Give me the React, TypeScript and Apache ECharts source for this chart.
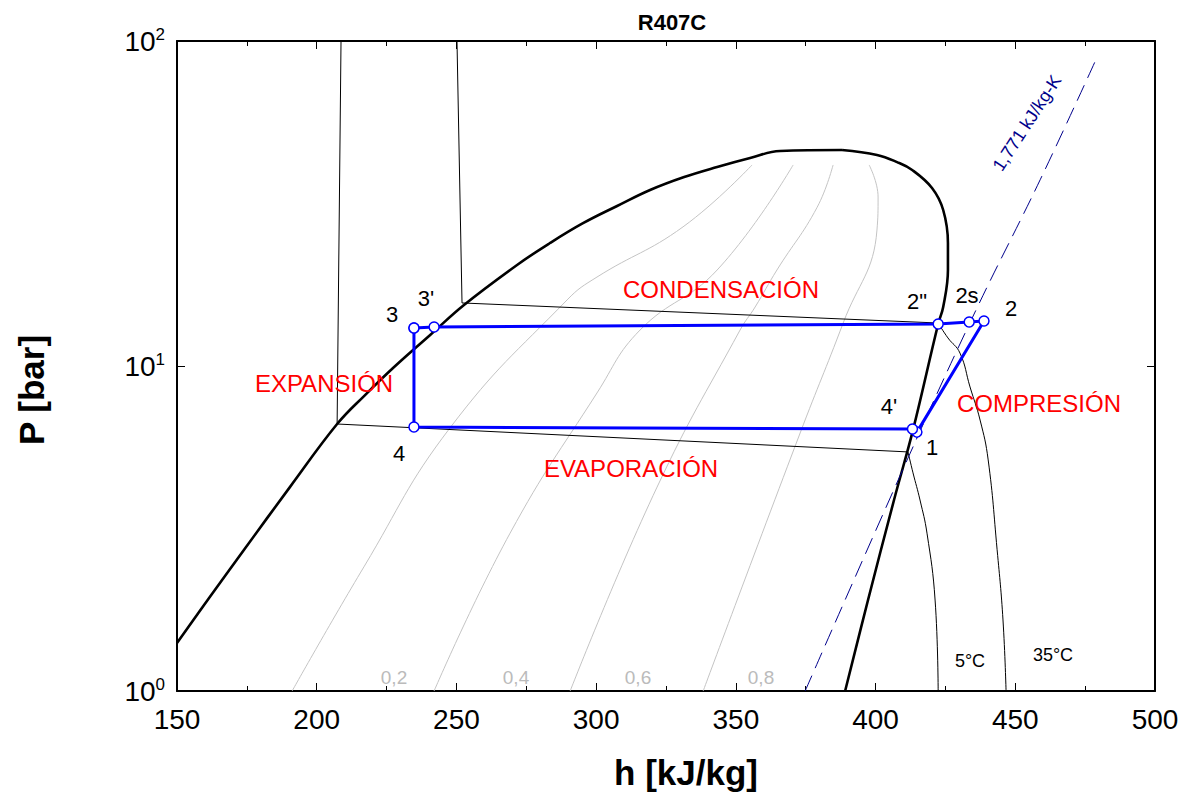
import React, { useEffect, useRef } from 'react';
import * as echarts from 'echarts';

const FONT = '"Liberation Sans", Arial, Helvetica, sans-serif';

// Axis ranges / ticks
const H_MIN = 150;
const H_MAX = 500;
const H_STEP = 50;
const P_MIN = 1;
const P_MAX = 100;

// Saturation dome [h kJ/kg, P bar]
const liquidLine = [
  [150, 1.405], [161.8, 1.95], [174.0, 2.72], [190.4, 4.24], [207.3, 6.63], [217.3, 8.14], [227.7, 9.93],
  [240.6, 12.46], [252.7, 15.41], [271.7, 20.46], [283.5, 23.9], [295.3, 27.5], [307.5, 31.07], [319.3, 34.8],
  [331.5, 38.15], [343.3, 40.96], [355.1, 43.65], [365.8, 45.86], [388.0, 46.2],
];
const vaporLine = [
  [388.0, 46.2], [400.5, 44.6], [407.7, 42.4], [413.1, 40.1], [420.2, 35.3], [424.2, 30.2], [425.9, 23.9], [425.9, 19.74],
  [424.2, 15.19], [422.4, 13.47], [413.4, 6.36], [406.6, 3.87], [397.3, 1.905], [389.1, 1.0],
];

// Quality lines
const q02 = [[191.2, 1.0], [216.9, 2.41], [247.7, 6.45], [289.6, 15.97], [300.3, 18.78], [331.1, 26.8], [355.8, 41.55]];
const q04 = [[242.0, 1.0], [269.2, 3.06], [300.3, 8.26], [315.7, 12.9], [343.3, 19.74], [370.5, 41.55]];
const q06 = [[290.7, 1.0], [321.8, 4.24], [351.5, 12.9], [356.9, 15.19], [364.7, 19.74], [379.1, 30.8], [384.8, 41.55]];
const q08 = [[338.3, 1.0], [373.0, 6.22], [388.4, 13.56], [400.5, 26.2], [400.9, 33.1], [397.7, 41.55]];
const qualityLabels = ['0,2', '0,4', '0,6', '0,8'];

// Isotherms
const t5Liquid = [[208.7, 100], [207.3, 6.63]];
const t5TwoPhase = [[207.3, 6.63], [411.6, 5.44]];
const t5Vapor = [[411.6, 5.44], [413.4, 4.69], [415.9, 3.87], [418.4, 3.06], [421.3, 1.905], [422.4, 1.0]];
const t35Liquid = [[250.2, 100], [252.0, 15.63]];
const t35TwoPhase = [[252.0, 15.63], [422.4, 13.56]];
const t35Vapor = [[422.4, 13.56], [425.9, 12.2], [430.2, 10.96], [433.8, 8.62], [437.4, 6.82], [440.3, 5.14], [443.5, 2.72], [445.6, 1.654], [446.7, 1.0]];

// Isentrope s = 1,771 kJ/kg-K
const isentrope = [[374.8, 1.0], [411.3, 5.14], [435.6, 14.66], [458.9, 37.4], [479.3, 89.3]];

// Refrigeration cycle
const cycleNames = ['3', "3'", '2"', '2s', '2', '1', "4'", '4', '3'];
const cycleH = [234.8, 242.0, 422.4, 433.5, 438.8, 414.8, 413.2, 234.8, 234.8];
const cycleP = [13.09, 13.18, 13.47, 13.66, 13.75, 6.26, 6.40, 6.49, 13.09];

function thin(data: number[][], color: string, smooth: number | boolean = false, z = 2) {
  return {
    type: 'line', data, smooth, symbol: 'none', silent: true, z,
    lineStyle: { color, width: 1 },
  };
}

function txt(text: string, x: number, y: number, size: number, fill: string, extra: any = {}) {
  return {
    type: 'text', x, y, z: 50, silent: true, ...extra,
    style: {
      text, fill, font: `${extra.bold ? 'bold ' : ''}${size}px ${FONT}`,
      textAlign: 'center', textVerticalAlign: 'middle', align: 'center', verticalAlign: 'middle',
    },
  };
}

export default function App() {
  const ref = useRef<HTMLDivElement>(null);
  useEffect(() => {
    const chart = echarts.init(ref.current!, null, { renderer: 'svg', width: 1194, height: 798 });
    const axisLine = { show: true, onZero: false, lineStyle: { color: '#000', width: 2 } };
    const option: any = {
      animation: false,
      backgroundColor: '#fff',
      grid: { left: 177, right: 39, top: 41, bottom: 107, containLabel: false, outerBoundsMode: 'none' },
      xAxis: [
        {
          type: 'value', min: H_MIN, max: H_MAX, interval: H_STEP, position: 'bottom',
          axisLine,
          axisTick: { show: true, inside: true, length: 8, lineStyle: { color: '#000', width: 1 } },
          minorTick: { show: true, splitNumber: 2, length: 5, lineStyle: { color: '#000', width: 1 } },
          axisLabel: { show: true, color: '#000', fontSize: 28, fontFamily: FONT, margin: 14 },
          splitLine: { show: false },
        },
        {
          type: 'value', min: H_MIN, max: H_MAX, interval: H_STEP, position: 'top',
          axisLine,
          axisTick: { show: true, inside: true, length: 8, lineStyle: { color: '#000', width: 1 } },
          minorTick: { show: true, splitNumber: 2, length: 5, lineStyle: { color: '#000', width: 1 } },
          axisLabel: { show: false },
          splitLine: { show: false },
        },
      ],
      yAxis: [
        {
          type: 'log', logBase: 10, min: P_MIN, max: P_MAX, position: 'left',
          axisLine,
          axisTick: { show: true, inside: true, length: 8, lineStyle: { color: '#000', width: 1 } },
          axisLabel: {
            show: true, margin: 12, fontFamily: FONT,
            formatter: (v: number) => `{b|10}{s|${Math.round(Math.log10(v))}}`,
            rich: {
              b: { fontSize: 28, color: '#000', fontFamily: FONT, lineHeight: 30 },
              s: { fontSize: 17, color: '#000', fontFamily: FONT, verticalAlign: 'top', lineHeight: 17 },
            },
          },
          splitLine: { show: false },
        },
        {
          type: 'log', logBase: 10, min: P_MIN, max: P_MAX, position: 'right',
          axisLine,
          axisTick: { show: true, inside: true, length: 8, lineStyle: { color: '#000', width: 1 } },
          axisLabel: { show: false },
          splitLine: { show: false },
        },
      ],
      series: [
        thin(q02, '#c4c4c4', 0.45, 1),
        thin(q04, '#c4c4c4', 0.45, 1),
        thin(q06, '#c4c4c4', 0.45, 1),
        thin(q08, '#c4c4c4', 0.45, 1),
        thin(t5Liquid, '#000'),
        thin(t5TwoPhase, '#000'),
        thin(t5Vapor, '#000', 0.45),
        thin(t35Liquid, '#000'),
        thin(t35TwoPhase, '#000'),
        thin(t35Vapor, '#000', 0.45),
        {
          type: 'line', data: liquidLine, smooth: 0.4, symbol: 'none', silent: true, z: 4,
          lineStyle: { color: '#000', width: 2.6 },
        },
        {
          type: 'line', data: vaporLine, smooth: 0.4, symbol: 'none', silent: true, z: 4,
          lineStyle: { color: '#000', width: 2.6 },
        },
        {
          type: 'line', data: isentrope, smooth: 0.4, symbol: 'none', silent: true, z: 5,
          lineStyle: { color: '#00008b', width: 1, type: [17, 8] },
        },
        {
          type: 'line', z: 10, silent: true,
          data: cycleH.map((h, i) => ({ name: cycleNames[i], value: [h, cycleP[i]] })),
          symbol: 'circle', symbolSize: 10, showAllSymbol: true,
          lineStyle: { color: '#0000ff', width: 3 },
          itemStyle: { color: '#ffffff', borderColor: '#0000ff', borderWidth: 1.5 },
        },
      ],
      graphic: [
        txt('R407C', 672, 22, 22, '#000', { bold: true }),
        txt('h [kJ/kg]', 686, 772, 35, '#000', { bold: true }),
        txt('P [bar]', 31, 390, 35, '#000', { bold: true, rotation: Math.PI / 2 }),
        txt('CONDENSACIÓN', 721, 289, 24, '#ff0000'),
        txt('EXPANSIÓN', 324, 383, 24, '#ff0000'),
        txt('EVAPORACIÓN', 631, 468, 24, '#ff0000'),
        txt('COMPRESIÓN', 1039, 403, 24, '#ff0000'),
        txt('3', 392, 314, 22, '#000'),
        txt("3'", 426, 298, 22, '#000'),
        txt('2"', 917, 301, 22, '#000'),
        txt('2s', 967, 295, 22, '#000'),
        txt('2', 1011, 308, 22, '#000'),
        txt("4'", 889, 406, 22, '#000'),
        txt('1', 932, 447, 22, '#000'),
        txt('4', 399, 453, 22, '#000'),
        txt(qualityLabels[0], 394, 677, 19, '#bbbbbb'),
        txt(qualityLabels[1], 516, 677, 19, '#bbbbbb'),
        txt(qualityLabels[2], 638, 677, 19, '#bbbbbb'),
        txt(qualityLabels[3], 761, 677, 19, '#bbbbbb'),
        txt('5°C', 970, 661, 18, '#000'),
        txt('35°C', 1053, 655, 18, '#000'),
        txt('1,771 kJ/kg-K', 1027, 123, 18, '#00008b', { rotation: (57 * Math.PI) / 180 }),
      ],
    };
    chart.setOption(option);
    return () => chart.dispose();
  }, []);
  return (
    <div
      ref={ref}
      style={{ position: 'fixed', left: 0, top: 0, width: 1194, height: 798, background: '#fff' }}
    />
  );
}
